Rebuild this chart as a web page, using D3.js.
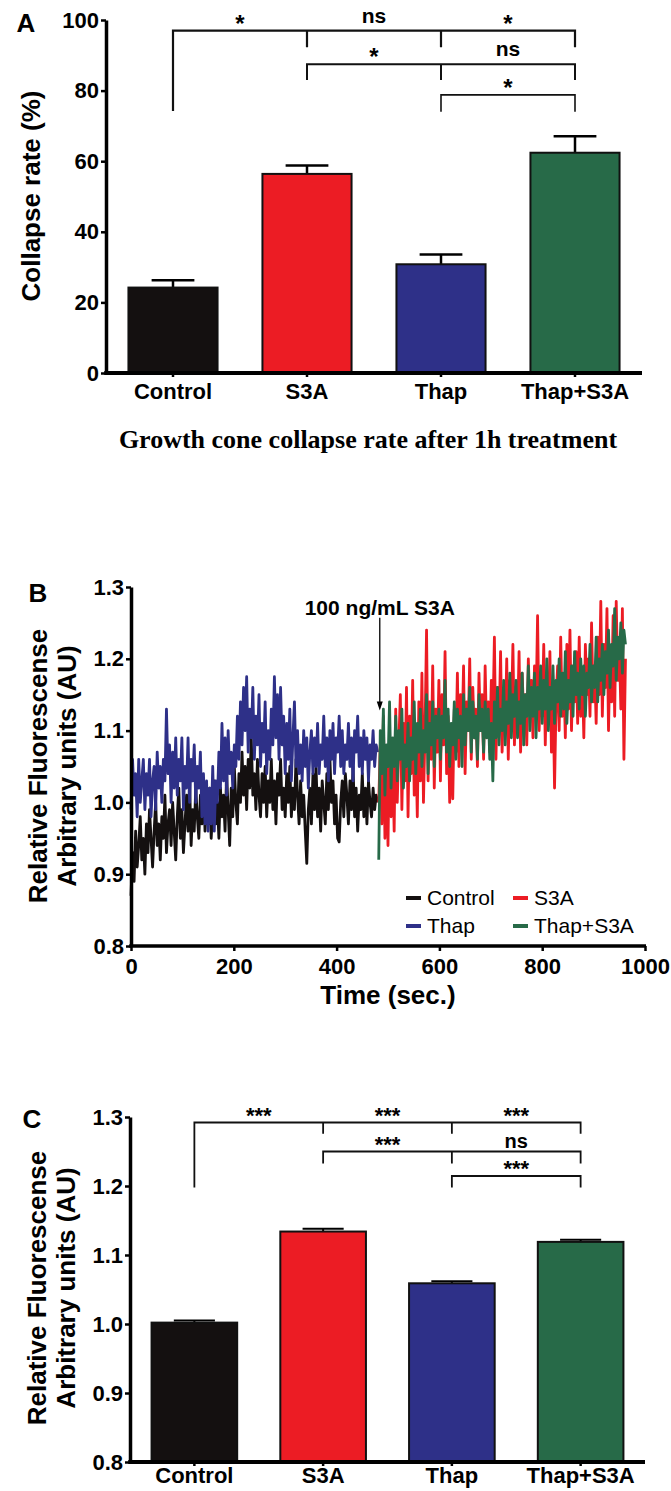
<!DOCTYPE html>
<html><head><meta charset="utf-8">
<script src="https://cdn.jsdelivr.net/npm/d3@7/dist/d3.min.js"></script>
<style>body{margin:0;background:#fff}svg{display:block}</style>
</head><body>
<svg id="fig" width="671" height="1491"></svg>
<script>
// ---------- DATA ----------
const categories = ["Control", "S3A", "Thap", "Thap+S3A"];
const seriesColors = ["#141010", "#ec1c24", "#2e3088", "#276a48"];

// Panel A: collapse rate (%)
const collapseMean = [24.2, 56.4, 30.8, 62.4];
const collapseErr  = [2.1, 2.4, 2.8, 4.7];
const collapseTicks = [0, 20, 40, 60, 80, 100];
const collapseSig = [
  {level: 97,   stops: [["Control", 74.5], ["S3A", 92.6], ["Thap", 92.6], ["Thap+S3A", 92.6]], labels: ["*", "ns", "*"]},
  {level: 87.5, stops: [["S3A", 83.3], ["Thap", 83.3], ["Thap+S3A", 83.3]], labels: ["*", "ns"]},
  {level: 78.8, stops: [["Thap", 74.2], ["Thap+S3A", 74.2]], labels: ["*"]}
];

// Panel B: time courses (sampled every 3 s)
const sampleStep = 3;
const controlStart = 0;
const controlTrace = [
  0.87,0.93,0.89,0.96,0.91,0.94,0.98,0.92,0.95,0.90,
  0.97,0.93,0.99,0.95,0.91,0.96,1.00,0.94,0.97,0.92,
  0.98,0.95,1.01,0.93,0.97,0.99,0.94,1.00,0.96,0.92,
  0.98,1.02,0.95,0.99,0.93,0.97,1.01,0.96,1.03,0.94,
  0.99,0.96,1.02,0.98,0.95,1.01,0.97,1.03,0.96,1.00,
  0.97,1.02,0.95,0.99,1.03,0.97,1.00,0.95,1.02,0.98,
  1.01,0.96,1.04,0.99,0.94,1.02,0.98,1.05,1.00,0.97,
  1.04,1.00,1.07,1.01,1.05,0.99,1.06,1.02,1.09,1.01,
  1.04,0.99,1.06,1.01,0.98,1.04,1.00,1.05,0.98,1.03,
  1.00,1.06,0.99,1.03,0.97,1.04,1.01,1.06,0.99,1.02,
  0.98,1.04,1.00,1.05,0.98,1.02,0.99,1.06,1.01,0.97,
  1.03,0.98,1.01,0.96,0.915,0.99,1.02,0.97,1.04,0.99,
  1.05,0.98,1.02,0.96,1.03,1.00,0.97,1.04,0.99,1.06,
  1.00,1.03,0.97,1.01,0.95,0.945,1.00,1.03,0.98,1.04,
  1.01,0.97,1.03,0.99,1.05,0.98,1.02,0.96,1.01,0.99,
  1.04,0.98,1.02,0.97,1.03,1.00,0.98,1.02,0.99,1.01,
  1.00];
const thapStart = 0;
const thapTrace = [
  0.99,1.06,1.01,1.04,0.98,1.06,1.00,1.03,1.06,0.99,
  1.04,1.01,1.06,0.98,1.03,1.05,0.99,1.07,1.02,1.05,
  1.00,1.06,1.03,1.13,1.04,1.08,1.00,1.07,1.02,1.09,
  1.01,1.06,1.03,1.09,0.99,1.05,1.02,1.09,1.00,1.06,
  1.03,1.08,1.00,1.05,1.02,1.07,0.98,1.04,0.97,1.03,
  0.96,1.02,0.97,1.05,0.96,1.03,1.00,1.07,1.02,1.11,
  1.03,1.09,1.01,1.10,1.04,1.07,1.02,1.08,1.05,1.12,
  1.06,1.14,1.08,1.16,1.10,1.175,1.07,1.13,1.09,1.16,
  1.06,1.12,1.08,1.15,1.05,1.11,1.07,1.14,1.04,1.10,
  1.06,1.13,1.08,1.175,1.09,1.15,1.06,1.16,1.08,1.12,
  1.04,1.11,1.06,1.13,1.03,1.09,1.14,1.05,1.10,1.04,
  1.08,1.03,1.10,1.05,1.09,1.02,1.07,1.10,1.04,1.09,
  1.05,1.11,1.04,1.08,1.06,1.12,1.05,1.09,1.03,1.10,
  1.06,1.11,1.04,1.09,1.07,1.12,1.05,1.10,1.04,1.08,
  1.06,1.11,1.05,1.09,1.03,1.10,1.07,1.12,1.05,1.09,
  1.04,1.10,1.06,1.09,1.03,1.08,1.06,1.10,1.05,1.08,
  1.07];
const s3aStart = 482;
const s3aTrace = [
  1.00,1.08,0.97,1.12,0.95,1.05,0.94,1.10,0.98,1.06,
  0.96,1.13,1.00,1.08,1.15,0.99,1.11,1.03,1.16,0.98,
  1.12,1.04,1.17,1.01,1.09,0.98,1.14,1.03,1.18,1.00,
  1.10,1.24,1.03,1.14,1.06,1.19,1.02,1.13,1.07,1.17,
  1.03,1.15,1.08,1.21,1.04,1.12,1.00,1.09,1.005,1.13,
  1.07,1.18,1.05,1.15,1.09,1.19,1.04,1.14,1.10,1.20,
  1.06,1.16,1.09,1.13,1.05,1.18,1.10,1.15,1.06,1.19,
  1.09,1.14,1.07,1.17,1.11,1.23,1.06,1.16,1.10,1.21,
  1.07,1.15,1.10,1.20,1.06,1.17,1.12,1.22,1.08,1.16,
  1.11,1.21,1.07,1.18,1.12,1.15,1.08,1.20,1.13,1.17,
  1.09,1.19,1.13,1.26,1.10,1.17,1.12,1.22,1.08,1.18,
  1.12,1.21,1.07,1.16,1.02,1.14,1.19,1.10,1.23,1.12,
  1.18,1.09,1.22,1.13,1.24,1.10,1.19,1.14,1.21,1.11,
  1.23,1.12,1.18,1.09,1.22,1.15,1.20,1.12,1.25,1.14,
  1.19,1.11,1.23,1.15,1.28,1.12,1.22,1.16,1.27,1.10,
  1.21,1.14,1.26,1.12,1.28,1.17,1.22,1.13,1.27,1.06,
  1.20];
const thapS3aStart = 482;
const thapS3aTrace = [
  0.92,1.10,1.04,1.13,1.01,1.08,1.05,1.14,1.02,1.09,
  1.05,1.12,1.03,1.10,1.06,1.13,1.02,1.08,1.05,1.11,
  1.03,1.09,1.06,1.14,1.04,1.11,1.07,1.13,1.05,1.10,
  1.07,1.15,1.04,1.11,1.08,1.14,1.05,1.12,1.09,1.13,
  1.06,1.12,1.09,1.17,1.07,1.13,1.05,1.11,1.08,1.14,
  1.06,1.13,1.09,1.12,1.05,1.15,1.08,1.13,1.10,1.16,
  1.07,1.14,1.09,1.12,1.06,1.15,1.10,1.13,1.07,1.14,
  1.09,1.13,1.06,1.11,1.03,1.14,1.09,1.16,1.08,1.13,
  1.10,1.17,1.08,1.14,1.11,1.18,1.09,1.15,1.12,1.17,
  1.09,1.14,1.11,1.18,1.08,1.15,1.12,1.19,1.10,1.16,
  1.12,1.18,1.09,1.16,1.13,1.19,1.11,1.17,1.13,1.20,
  1.10,1.16,1.13,1.19,1.11,1.17,1.14,1.20,1.12,1.18,
  1.13,1.21,1.11,1.17,1.14,1.19,1.12,1.21,1.15,1.18,
  1.13,1.20,1.15,1.19,1.12,1.18,1.16,1.22,1.14,1.19,
  1.16,1.23,1.14,1.20,1.17,1.22,1.15,1.21,1.18,1.24,
  1.16,1.22,1.19,1.27,1.17,1.23,1.20,1.25,1.18,1.24,
  1.22];
const timeTicks = [0, 200, 400, 600, 800, 1000];
const fluorTicks = [0.8, 0.9, 1.0, 1.1, 1.2, 1.3];
const s3aAddedTime = 484;
const arrowFrom = 1.257, arrowTo = 1.128;

// Panel C: mean relative fluorescence
const fluorMean = [1.002, 1.134, 1.059, 1.119];
const fluorErr  = [0.003, 0.004, 0.003, 0.003];
const fluorSig = [
  {level: 1.292, stops: [["Control", 1.199], ["S3A", 1.277], ["Thap", 1.277], ["Thap+S3A", 1.277]], labels: ["***", "***", "***"]},
  {level: 1.250, stops: [["S3A", 1.234], ["Thap", 1.234], ["Thap+S3A", 1.234]], labels: ["***", "ns"]},
  {level: 1.2145, stops: [["Thap", 1.199], ["Thap+S3A", 1.199]], labels: ["***"]}
];

// ---------- DRAW ----------
const SANS = "'Liberation Sans', Arial, Helvetica, sans-serif";
const svg = d3.select("#fig");
svg.append("rect").attr("width", 671).attr("height", 1491).attr("fill", "#fff");

function styleAxis(g, fs, w) {
  g.select(".domain").attr("stroke", "#000").attr("stroke-width", w);
  g.selectAll(".tick line").attr("stroke", "#000").attr("stroke-width", 2.5);
  g.selectAll(".tick text").attr("fill", "#000").style("font-family", SANS)
    .style("font-weight", "bold").style("font-size", fs + "px");
  g.attr("font-family", null).attr("font-size", null);
}

function barPanel(opt) {
  const g = svg.append("g");
  const x = d3.scaleBand().domain(categories).range([opt.x0, opt.x1]).paddingInner(0.335).paddingOuter(0.1675);
  const y = d3.scaleLinear().domain(opt.domain).range([opt.yBot, opt.yTop]);
  const cw = x.bandwidth() * 0.48;
  categories.forEach((c, i) => {
    const cx = x(c) + x.bandwidth() / 2;
    g.append("line").attr("x1", cx).attr("x2", cx)
      .attr("y1", y(opt.means[i])).attr("y2", y(opt.means[i] + opt.errs[i]))
      .attr("stroke", "#000").attr("stroke-width", opt.errW);
    g.append("line").attr("x1", cx - cw / 2).attr("x2", cx + cw / 2)
      .attr("y1", y(opt.means[i] + opt.errs[i])).attr("y2", y(opt.means[i] + opt.errs[i]))
      .attr("stroke", "#000").attr("stroke-width", opt.errW);
  });
  g.selectAll("rect.bar").data(categories).join("rect").attr("class", "bar")
    .attr("x", d => x(d)).attr("width", x.bandwidth())
    .attr("y", (d, i) => y(opt.means[i])).attr("height", (d, i) => y(opt.domain[0]) - y(opt.means[i]))
    .attr("fill", (d, i) => seriesColors[i]).attr("stroke", "#111").attr("stroke-width", 2);
  const ya = g.append("g").attr("transform", `translate(${opt.x0},0)`)
    .call(d3.axisLeft(y).tickValues(opt.ticks).tickFormat(opt.fmt).tickSize(5).tickSizeOuter(0).tickPadding(2));
  styleAxis(ya, 22, 3.5);
  const xa = g.append("g").attr("transform", `translate(0,${opt.yBot})`)
    .call(d3.axisBottom(x).tickSize(4).tickSizeOuter(0).tickPadding(opt.xPad));
  styleAxis(xa, 22, 4);
  xa.select(".domain").attr("d", `M${opt.x0 - 1.75},0H${opt.x1}`);
  const cxOf = c => x(c) + x.bandwidth() / 2;
  opt.sig.forEach((b, bi) => {
    const yl = y(b.level);
    let d = "";
    b.stops.forEach(([c, drop]) => { d += `M${cxOf(c)},${y(drop)}V${yl}`; });
    d += `M${cxOf(b.stops[0][0])},${yl}H${cxOf(b.stops[b.stops.length - 1][0])}`;
    g.append("path").attr("d", d).attr("fill", "none").attr("stroke", "#111")
      .attr("stroke-width", opt.sigW[bi]).attr("stroke-linecap", "square");
    b.labels.forEach((t, k) => {
      const mx = (cxOf(b.stops[k][0]) + cxOf(b.stops[k + 1][0])) / 2;
      const isNs = t === "ns";
      g.append("text").attr("x", mx).attr("y", yl + (isNs ? opt.nsDy : opt.starDy))
        .attr("text-anchor", "middle").style("font-family", SANS).style("font-weight", "bold")
        .style("font-size", (isNs ? opt.nsSize : opt.starSize) + "px").text(t);
    });
  });
  return {x, y, g};
}

function boldText(x, y, txt, size, rotate, anchor) {
  const t = svg.append("text").attr("text-anchor", anchor || "middle")
    .style("font-family", SANS).style("font-weight", "bold").style("font-size", size + "px").text(txt);
  if (rotate) t.attr("transform", `translate(${x},${y}) rotate(-90)`);
  else t.attr("x", x).attr("y", y);
  return t;
}

// Panel A
barPanel({x0: 106, x1: 642, yTop: 20, yBot: 373, domain: [0, 100], ticks: collapseTicks, fmt: d3.format("d"),
  means: collapseMean, errs: collapseErr, sig: collapseSig, errW: 2.5, sigW: [2.2, 2, 1.6],
  starDy: 1, starSize: 24, nsDy: -8, nsSize: 21, xPad: 6});
boldText(26, 32, "A", 26);
boldText(40, 196, "Collapse rate (%)", 26, true);
svg.append("text").attr("x", 368).attr("y", 448).attr("text-anchor", "middle")
  .style("font-family", "'Liberation Serif', 'Times New Roman', serif").style("font-weight", "bold")
  .style("font-size", "26px").text("Growth cone collapse rate after 1h treatment");

// Panel B
(function () {
  const g = svg.append("g");
  const x = d3.scaleLinear().domain([0, 1000]).range([131, 645]);
  const y = d3.scaleLinear().domain([0.8, 1.3]).range([946, 587]);
  const line = d3.line().x(d => x(d[0])).y(d => y(d[1]));
  const traces = [
    {start: controlStart, vals: controlTrace, color: seriesColors[0]},
    {start: thapStart, vals: thapTrace, color: seriesColors[2]},
    {start: s3aStart, vals: s3aTrace, color: seriesColors[1]},
    {start: thapS3aStart, vals: thapS3aTrace, color: seriesColors[3]}
  ];
  traces.forEach(tr => {
    const pts = tr.vals.map((v, i) => [tr.start + i * sampleStep, v]);
    g.append("path").attr("d", line(pts)).attr("fill", "none").attr("stroke", tr.color)
      .attr("stroke-width", 2.8).attr("stroke-linejoin", "round");
  });
  const ya = g.append("g").attr("transform", "translate(131,0)")
    .call(d3.axisLeft(y).tickValues(fluorTicks).tickFormat(d3.format(".1f")).tickSize(5).tickSizeOuter(0).tickPadding(2));
  styleAxis(ya, 22, 3.5);
  const xa = g.append("g").attr("transform", "translate(0,946)")
    .call(d3.axisBottom(x).tickValues(timeTicks).tickFormat(d3.format("d")).tickSize(5).tickSizeOuter(0).tickPadding(7));
  styleAxis(xa, 22, 3.5);
  xa.select(".domain").attr("d", "M129.25,0H646");
  const ax = x(s3aAddedTime);
  g.append("line").attr("x1", ax).attr("x2", ax).attr("y1", y(arrowFrom)).attr("y2", y(arrowTo) - 8)
    .attr("stroke", "#000").attr("stroke-width", 1.3);
  g.append("path").attr("d", `M${ax - 3},${y(arrowTo) - 9}L${ax + 3},${y(arrowTo) - 9}L${ax},${y(arrowTo)}Z`).attr("fill", "#000");
  boldText(ax, 615, "100 ng/mL S3A", 21);
  const legendPos = [[406, 905], [513, 905], [406, 933], [513, 933]];
  categories.forEach((c, i) => {
    const [lx, ly] = legendPos[i];
    g.append("rect").attr("x", lx).attr("y", ly - 9).attr("width", 15).attr("height", 4).attr("fill", seriesColors[i]);
    g.append("text").attr("x", lx + 21).attr("y", ly).style("font-family", SANS).style("font-size", "21px").text(c);
  });
  boldText(38, 602, "B", 26);
  boldText(388, 1004, "Time (sec.)", 26);
  boldText(47, 766, "Relative Fluorescense", 26, true);
  boldText(76, 766, "Arbitrary units (AU)", 26, true);
})();

// Panel C
barPanel({x0: 130, x1: 645, yTop: 1117, yBot: 1462, domain: [0.8, 1.3], ticks: fluorTicks, fmt: d3.format(".1f"),
  means: fluorMean, errs: fluorErr, sig: fluorSig, errW: 2, sigW: [1.8, 1.8, 1.8],
  starDy: 0, starSize: 22, nsDy: -4, nsSize: 20, xPad: 1});
boldText(32, 1128, "C", 26);
boldText(46, 1288, "Relative Fluorescense", 26, true);
boldText(75, 1288, "Arbitrary units (AU)", 26, true);
</script>
</body></html>
